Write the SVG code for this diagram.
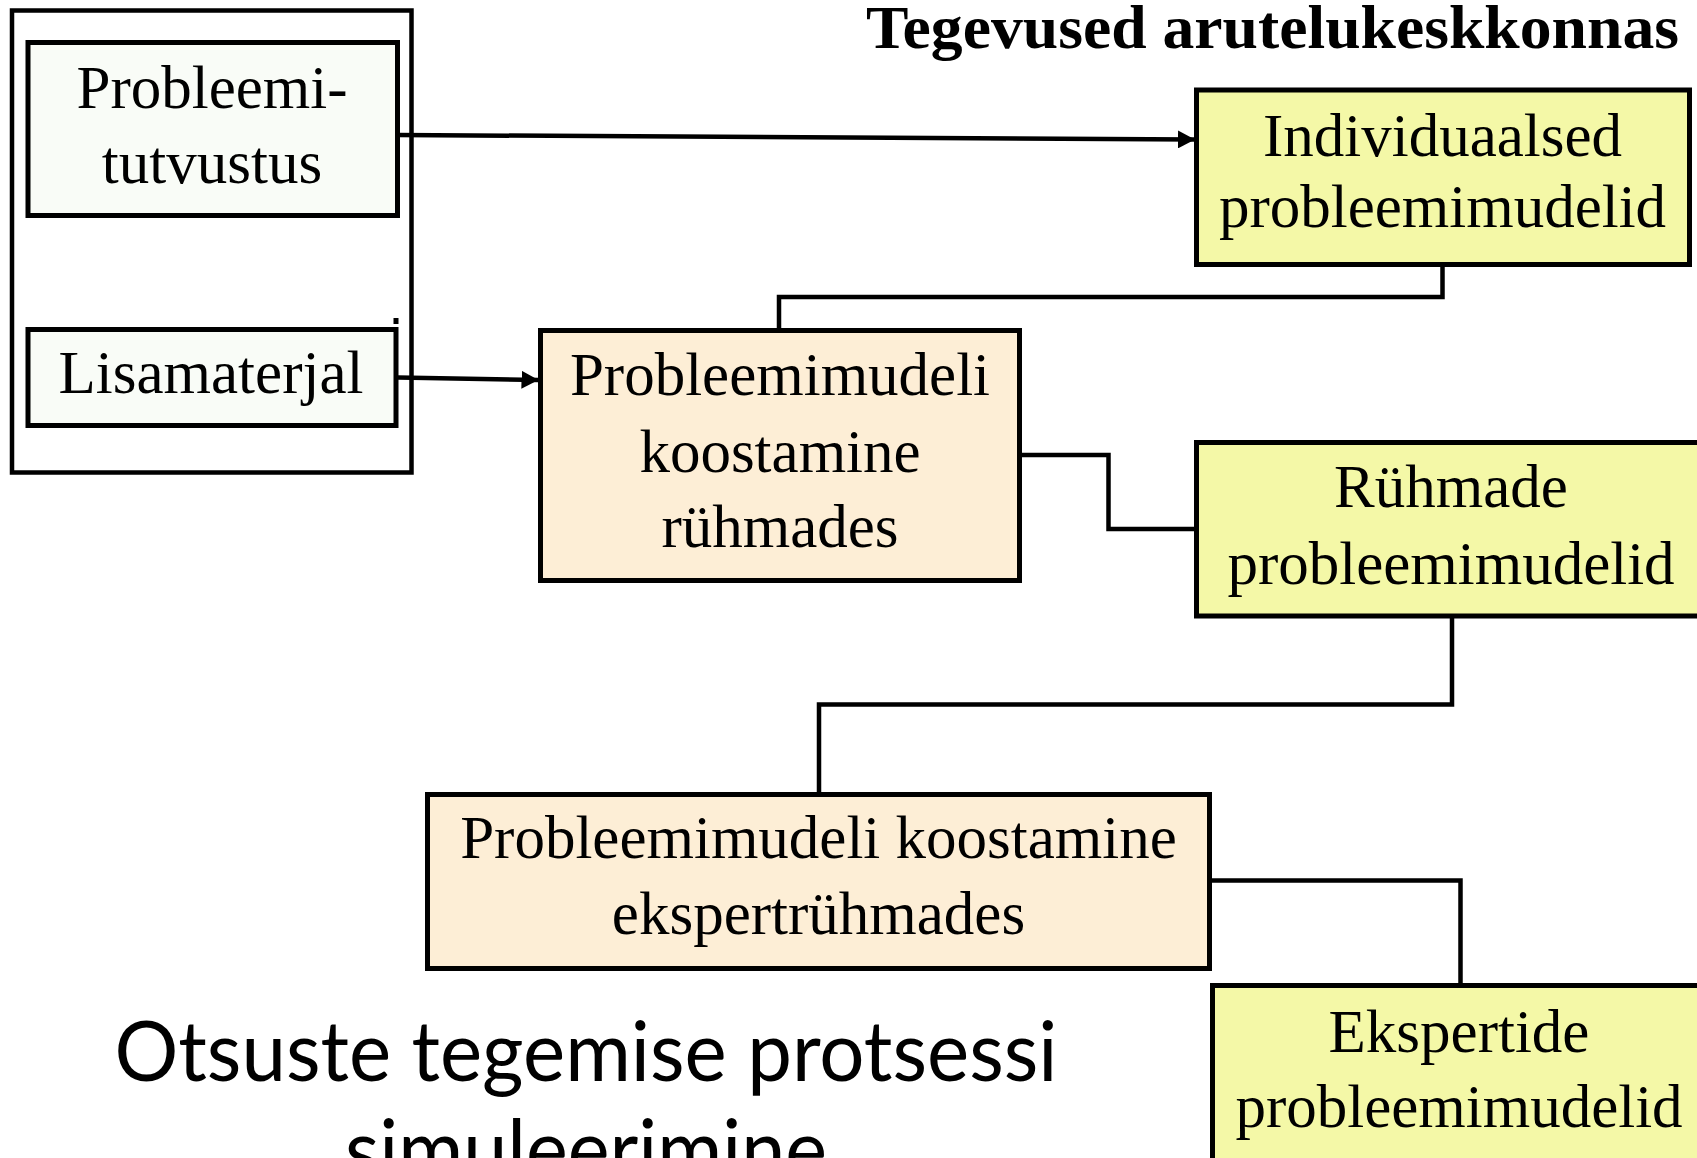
<svg xmlns="http://www.w3.org/2000/svg" width="1697" height="1158" viewBox="0 0 1697 1158">
  <style>
    .box { stroke: #000; stroke-width: 5; }
    .pale { fill: #f9fcf7; }
    .peach { fill: #fdeed6; }
    .lime { fill: #f4f8a7; }
    .frame { fill: none; stroke: #000; stroke-width: 4.5; }
    .lbl { font-family: "Liberation Serif", "Times New Roman", serif; font-size: 61px; fill: #000; text-anchor: middle; }
    .wire { fill: none; stroke: #000; stroke-width: 4.5; stroke-linejoin: miter; }
    .head { fill: #000; }
    .title { font-family: "Liberation Serif", "Times New Roman", serif; font-weight: bold; font-size: 62px; fill: #000; text-anchor: end; }
    .caption { font-family: Lato, "Noto Sans", "Liberation Sans", sans-serif; font-size: 84px; fill: #000; text-anchor: middle; }
  </style>
  <defs>
    <marker id="arrow" markerUnits="userSpaceOnUse" markerWidth="18" markerHeight="18" refX="17" refY="9" orient="auto">
      <path class="head" d="M0,0 L17,9 L0,18 Z"/>
    </marker>
  </defs>

  <rect width="1697" height="1158" fill="#fff"/>

  <!-- heading -->
  <text class="title" x="1679" y="48" textLength="813" lengthAdjust="spacingAndGlyphs">Tegevused arutelukeskkonnas</text>

  <!-- input group frame -->
  <g id="inputs-frame">
    <rect class="frame" x="12" y="10.5" width="399.5" height="462"/>
  </g>

  <g id="node-tutvustus">
    <rect class="box pale" x="28" y="42.5" width="369.5" height="173"/>
    <text class="lbl" x="212" y="108">Probleemi-</text>
    <text class="lbl" x="212" y="183">tutvustus</text>
  </g>

  <g id="node-lisamaterjal">
    <rect class="box pale" x="28" y="329.5" width="368" height="96"/>
    <rect x="393.5" y="318" width="5" height="6" fill="#000"/>
    <text class="lbl" x="211" y="393">Lisamaterjal</text>
  </g>

  <g id="node-individuaalsed">
    <rect class="box lime" x="1196.5" y="90" width="493" height="174.5"/>
    <text class="lbl" x="1442.5" y="156">Individuaalsed</text>
    <text class="lbl" x="1442.5" y="227">probleemimudelid</text>
  </g>

  <g id="node-ryhmades">
    <rect class="box peach" x="540.5" y="330.5" width="479" height="250"/>
    <text class="lbl" x="780" y="395">Probleemimudeli</text>
    <text class="lbl" x="780" y="472">koostamine</text>
    <text class="lbl" x="780" y="547">rühmades</text>
  </g>

  <g id="node-ryhmade-mudelid">
    <rect class="box lime" x="1196.5" y="442.5" width="510" height="173.5"/>
    <text class="lbl" x="1451" y="507">Rühmade</text>
    <text class="lbl" x="1451" y="584">probleemimudelid</text>
  </g>

  <g id="node-ekspertryhmades">
    <rect class="box peach" x="427.5" y="794.5" width="782" height="174"/>
    <text class="lbl" x="818.5" y="858">Probleemimudeli koostamine</text>
    <text class="lbl" x="818.5" y="934">ekspertrühmades</text>
  </g>

  <g id="node-ekspertide-mudelid">
    <rect class="box lime" x="1212.5" y="985.5" width="496" height="200"/>
    <text class="lbl" x="1459" y="1052">Ekspertide</text>
    <text class="lbl" x="1459" y="1127">probleemimudelid</text>
  </g>

  <!-- connectors -->
  <g id="connectors">
    <line class="wire" x1="398" y1="135" x2="1195" y2="139.5" marker-end="url(#arrow)"/>
    <line class="wire" x1="398" y1="377.5" x2="538.5" y2="380" marker-end="url(#arrow)"/>
    <polyline class="wire" points="1442.5,264.5 1442.5,297 779,297 779,330.5"/>
    <polyline class="wire" points="1019.5,455 1108.5,455 1108.5,529 1196.5,529"/>
    <polyline class="wire" points="1452,616 1452,704.5 819,704.5 819,794.5"/>
    <polyline class="wire" points="1209.5,880.5 1460.5,880.5 1460.5,985.5"/>
  </g>

  <!-- slide caption -->
  <text class="caption" x="586" y="1081" textLength="943" lengthAdjust="spacingAndGlyphs">Otsuste tegemise protsessi</text>
  <text class="caption" x="586" y="1179" textLength="482" lengthAdjust="spacingAndGlyphs">simuleerimine</text>
</svg>
